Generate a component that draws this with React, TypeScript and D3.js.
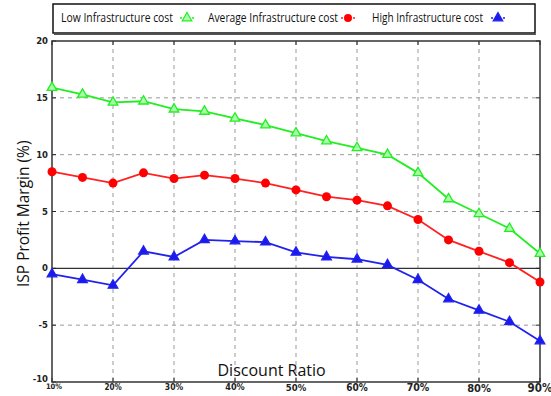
import React, { useEffect, useRef } from 'react';
import * as d3 from 'd3';

const discount = [10, 15, 20, 25, 30, 35, 40, 45, 50, 55, 60, 65, 70, 75, 80, 85, 90];
const lowCost = [15.9, 15.3, 14.6, 14.7, 14.0, 13.8, 13.2, 12.6, 11.9, 11.2, 10.6, 10.0, 8.4, 6.1, 4.8, 3.5, 1.3];
const avgCost = [8.5, 8.0, 7.5, 8.4, 7.9, 8.2, 7.9, 7.5, 6.9, 6.3, 6.0, 5.5, 4.3, 2.5, 1.5, 0.5, -1.2];
const highCost = [-0.5, -1.0, -1.5, 1.5, 1.0, 2.5, 2.4, 2.3, 1.4, 1.0, 0.8, 0.3, -1.0, -2.7, -3.7, -4.7, -6.4];
const xTicks = [10, 20, 30, 40, 50, 60, 70, 80, 90];
const yTicks = [-10, -5, 0, 5, 10, 15, 20];
const seriesNames = ['Low Infrastructure cost', 'Average Infrastructure cost', 'High Infrastructure cost'];

const W = 551;
const H = 396;

const App: React.FC = () => {
  const svgRef = useRef<SVGSVGElement>(null);

  useEffect(() => {
    if (!svgRef.current) return;
    const svg = d3.select(svgRef.current);
    svg.selectAll('*').remove();

    const margin = { top: 41, right: 11, bottom: 14, left: 52 };
    const width = W - margin.left - margin.right;
    const height = H - margin.top - margin.bottom;

    const x = d3.scaleLinear().domain([10, 90]).range([0, width]);
    const y = d3.scaleLinear().domain([-10, 20]).range([height, 0]);

    const g = svg.append('g').attr('transform', `translate(${margin.left},${margin.top})`);

    // dashed grid
    g.selectAll('.gx')
      .data(xTicks.slice(1, -1))
      .enter().append('line')
      .attr('x1', d => x(d)).attr('x2', d => x(d))
      .attr('y1', 0).attr('y2', height)
      .attr('stroke', '#999').attr('stroke-width', 1)
      .attr('stroke-dasharray', '4,4');
    g.selectAll('.gy')
      .data(yTicks.filter(d => d !== 0 && d !== -10 && d !== 20))
      .enter().append('line')
      .attr('x1', 0).attr('x2', width)
      .attr('y1', d => y(d)).attr('y2', d => y(d))
      .attr('stroke', '#999').attr('stroke-width', 1)
      .attr('stroke-dasharray', '4,4');

    // zero line
    g.append('line')
      .attr('x1', 0).attr('x2', width)
      .attr('y1', y(0)).attr('y2', y(0))
      .attr('stroke', '#333').attr('stroke-width', 1.2);

    // inner ticks on all sides
    xTicks.forEach(t => {
      g.append('line').attr('x1', x(t)).attr('x2', x(t)).attr('y1', 0).attr('y2', 4).attr('stroke', '#222');
      g.append('line').attr('x1', x(t)).attr('x2', x(t)).attr('y1', height).attr('y2', height - 4).attr('stroke', '#222');
    });
    yTicks.forEach(t => {
      g.append('line').attr('x1', 0).attr('x2', 4).attr('y1', y(t)).attr('y2', y(t)).attr('stroke', '#222');
      g.append('line').attr('x1', width).attr('x2', width - 4).attr('y1', y(t)).attr('y2', y(t)).attr('stroke', '#222');
    });

    // frame
    g.append('rect')
      .attr('width', width).attr('height', height)
      .attr('fill', 'none').attr('stroke', '#333').attr('stroke-width', 1.5);

    // y tick labels (bottom one nudged up so it clears the 10% label)
    g.selectAll('.yl')
      .data(yTicks)
      .enter().append('text')
      .attr('x', -4).attr('y', d => y(d) + (d === -10 ? 0 : 3))
      .attr('text-anchor', 'end')
      .attr('font-family', 'DejaVu Sans')
      .attr('font-weight', 'bold')
      .attr('font-size', 8.5)
      .attr('fill', '#222')
      .text(d => d);

    // x tick labels, growing left to right as in the source
    const labelSize = d3.scaleLinear().domain([10, 90]).range([7.5, 11.5]);
    g.selectAll('.xl')
      .data(xTicks)
      .enter().append('text')
      .attr('x', d => x(d) + (d === 10 ? 2 : 0))
      .attr('y', d => height + 1.5 + labelSize(d) * 0.76)
      .attr('text-anchor', 'middle')
      .attr('font-family', 'DejaVu Sans Condensed, DejaVu Sans')
      .attr('font-weight', 'bold')
      .attr('font-size', d => labelSize(d))
      .attr('fill', '#222')
      .text(d => `${d}%`);

    // axis titles
    g.append('text')
      .attr('x', x(46)).attr('y', height - 6)
      .attr('text-anchor', 'middle')
      .attr('font-family', 'Open Sans')
      .attr('font-size', 16)
      .attr('fill', '#111')
      .text('Discount Ratio');

    svg.append('text')
      .attr('transform', `translate(29,${margin.top + y(4.8)}) rotate(-90)`)
      .attr('text-anchor', 'middle')
      .attr('font-family', 'Open Sans')
      .attr('font-size', 15.5)
      .attr('fill', '#111')
      .text('ISP Profit Margin (%)');

    const line = d3.line<number>()
      .x((_, i) => x(discount[i]))
      .y(d => y(d));

    const tri = d3.symbol().type(d3.symbolTriangle).size(40);

    const series = [
      { values: lowCost, color: '#22ee22', fill: '#aaffaa', shape: 'tri' },
      { values: avgCost, color: '#ff2222', fill: '#ff0000', shape: 'circle' },
      { values: highCost, color: '#2222ee', fill: '#1a1aee', shape: 'tri' },
    ];

    series.forEach(s => {
      g.append('path')
        .datum(s.values)
        .attr('fill', 'none')
        .attr('stroke', s.color)
        .attr('stroke-width', 1.8)
        .attr('d', line);
      if (s.shape === 'circle') {
        g.selectAll(null)
          .data(s.values)
          .enter().append('circle')
          .attr('cx', (_, i) => x(discount[i]))
          .attr('cy', d => y(d))
          .attr('r', 4.5)
          .attr('fill', s.fill);
      } else {
        g.selectAll(null)
          .data(s.values)
          .enter().append('path')
          .attr('transform', (d, i) => `translate(${x(discount[i])},${y(d)})`)
          .attr('d', tri)
          .attr('fill', s.fill)
          .attr('stroke', s.color)
          .attr('stroke-width', 1.3);
      }
    });

    // legend
    const lg = svg.append('g');
    lg.append('rect')
      .attr('x', 53).attr('y', 4).attr('width', 482).attr('height', 29)
      .attr('fill', '#fff').attr('stroke', '#111').attr('stroke-width', 1.5);
    lg.append('line')
      .attr('x1', 54).attr('x2', 536).attr('y1', 34.5).attr('y2', 34.5)
      .attr('stroke', '#555').attr('stroke-width', 1);

    const legendX = [61, 208, 372];
    const legendW = [112, 130, 111];
    const markerX = [187, 348, 498];
    seriesNames.forEach((name, i) => {
      lg.append('text')
        .attr('x', legendX[i]).attr('y', 22)
        .attr('font-family', 'Open Sans')
        .attr('font-size', 12)
        .attr('textLength', legendW[i])
        .attr('lengthAdjust', 'spacingAndGlyphs')
        .attr('fill', '#111')
        .text(name);
      const s = series[i];
      lg.append('line')
        .attr('x1', markerX[i] - 7).attr('x2', markerX[i] + 7)
        .attr('y1', 18).attr('y2', 18)
        .attr('stroke', s.color).attr('stroke-width', 1.5)
        .attr('stroke-dasharray', '2,2');
      if (s.shape === 'circle') {
        lg.append('circle').attr('cx', markerX[i]).attr('cy', 18).attr('r', 4).attr('fill', s.fill);
      } else {
        lg.append('path')
          .attr('transform', `translate(${markerX[i]},18)`)
          .attr('d', tri)
          .attr('fill', s.fill)
          .attr('stroke', s.color)
          .attr('stroke-width', 1.2);
      }
    });
  }, []);

  return (
    <div style={{ position: 'absolute', left: 0, top: 0, width: W, height: H, background: '#fff' }}>
      <svg ref={svgRef} width={W} height={H} style={{ display: 'block' }} />
    </div>
  );
};

export default App;
